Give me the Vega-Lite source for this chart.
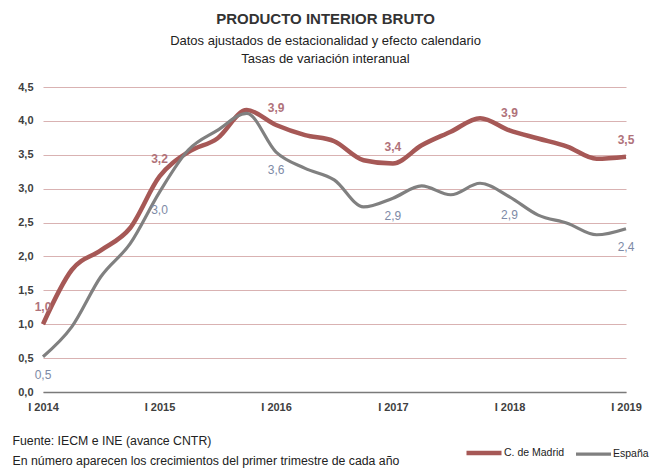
{
  "$schema": "https://vega.github.io/schema/vega-lite/v6.json",
  "width": 583,
  "height": 305,
  "autosize": {"type": "none"},
  "padding": {"left": 43, "top": 87, "right": 25, "bottom": 76},
  "background": "white",
  "config": {
    "view": {"stroke": null},
    "font": "Liberation Sans"
  },
  "title": {
    "text": "PRODUCTO INTERIOR BRUTO",
    "subtitle": ["Datos ajustados de estacionalidad y efecto calendario", "Tasas de variación interanual"],
    "anchor": "middle",
    "frame": "group",
    "dx": -9,
    "offset": 15,
    "font": "Liberation Sans",
    "fontSize": 15,
    "fontWeight": "bold",
    "color": "#333333",
    "subtitleFont": "Liberation Sans",
    "subtitleFontSize": 13,
    "subtitleColor": "#222222",
    "subtitleLineHeight": 18,
    "subtitlePadding": 8
  },
  "data": {
    "values": [
      {"date": "2014-01-01", "serie": "C. de Madrid", "v": 1.0, "label": "1,0"},
      {"date": "2014-04-01", "serie": "C. de Madrid", "v": 1.8},
      {"date": "2014-07-01", "serie": "C. de Madrid", "v": 2.09},
      {"date": "2014-10-01", "serie": "C. de Madrid", "v": 2.42},
      {"date": "2015-01-01", "serie": "C. de Madrid", "v": 3.18, "label": "3,2"},
      {"date": "2015-04-01", "serie": "C. de Madrid", "v": 3.54},
      {"date": "2015-07-01", "serie": "C. de Madrid", "v": 3.74},
      {"date": "2015-10-01", "serie": "C. de Madrid", "v": 4.16},
      {"date": "2016-01-01", "serie": "C. de Madrid", "v": 3.94, "label": "3,9"},
      {"date": "2016-04-01", "serie": "C. de Madrid", "v": 3.79},
      {"date": "2016-07-01", "serie": "C. de Madrid", "v": 3.7},
      {"date": "2016-10-01", "serie": "C. de Madrid", "v": 3.42},
      {"date": "2017-01-01", "serie": "C. de Madrid", "v": 3.37, "label": "3,4"},
      {"date": "2017-04-01", "serie": "C. de Madrid", "v": 3.64},
      {"date": "2017-07-01", "serie": "C. de Madrid", "v": 3.84},
      {"date": "2017-10-01", "serie": "C. de Madrid", "v": 4.04},
      {"date": "2018-01-01", "serie": "C. de Madrid", "v": 3.86, "label": "3,9"},
      {"date": "2018-04-01", "serie": "C. de Madrid", "v": 3.74},
      {"date": "2018-07-01", "serie": "C. de Madrid", "v": 3.62},
      {"date": "2018-10-01", "serie": "C. de Madrid", "v": 3.44},
      {"date": "2019-01-01", "serie": "C. de Madrid", "v": 3.47, "label": "3,5"},
      {"date": "2014-01-01", "serie": "España", "v": 0.52, "label": "0,5"},
      {"date": "2014-04-01", "serie": "España", "v": 0.96},
      {"date": "2014-07-01", "serie": "España", "v": 1.7},
      {"date": "2014-10-01", "serie": "España", "v": 2.19},
      {"date": "2015-01-01", "serie": "España", "v": 2.95, "label": "3,0"},
      {"date": "2015-04-01", "serie": "España", "v": 3.57},
      {"date": "2015-07-01", "serie": "España", "v": 3.86},
      {"date": "2015-10-01", "serie": "España", "v": 4.11},
      {"date": "2016-01-01", "serie": "España", "v": 3.54, "label": "3,6"},
      {"date": "2016-04-01", "serie": "España", "v": 3.3},
      {"date": "2016-07-01", "serie": "España", "v": 3.13},
      {"date": "2016-10-01", "serie": "España", "v": 2.73},
      {"date": "2017-01-01", "serie": "España", "v": 2.86, "label": "2,9"},
      {"date": "2017-04-01", "serie": "España", "v": 3.04},
      {"date": "2017-07-01", "serie": "España", "v": 2.91},
      {"date": "2017-10-01", "serie": "España", "v": 3.08},
      {"date": "2018-01-01", "serie": "España", "v": 2.88, "label": "2,9"},
      {"date": "2018-04-01", "serie": "España", "v": 2.61},
      {"date": "2018-07-01", "serie": "España", "v": 2.49},
      {"date": "2018-10-01", "serie": "España", "v": 2.32},
      {"date": "2019-01-01", "serie": "España", "v": 2.41, "label": "2,4"}
    ]
  },
  "encoding": {
    "x": {
      "field": "date",
      "type": "temporal",
      "scale": {"type": "utc", "nice": false},
      "axis": {
        "tickCount": {"interval": "year", "step": 1},
        "labelExpr": "'I ' + utcFormat(datum.value, '%Y')",
        "grid": false,
        "ticks": false,
        "domain": true,
        "domainColor": "#7a7a7a",
        "domainWidth": 1.5,
        "labelPadding": 9,
        "labelFont": "Liberation Sans",
        "labelFontSize": 11,
        "labelFontWeight": "bold",
        "labelColor": "#404040",
        "labelFlush": false,
        "title": ["Fuente: IECM  e INE (avance CNTR)", "En número aparecen los crecimientos del primer trimestre de cada año"],
        "titleAnchor": "start",
        "titleAlign": "left",
        "titleX": -31,
        "titleY": 52,
        "titleBaseline": "alphabetic",
        "titleFont": "Liberation Sans",
        "titleFontSize": 12.3,
        "titleFontWeight": "normal",
        "titleColor": "#222222",
        "titleLineHeight": 20
      }
    },
    "y": {
      "field": "v",
      "type": "quantitative",
      "scale": {"domain": [0, 4.5], "nice": false},
      "axis": {
        "values": [0, 0.5, 1, 1.5, 2, 2.5, 3, 3.5, 4, 4.5],
        "labelExpr": "replace(format(datum.value, '.1f'), '.', ',')",
        "domain": false,
        "ticks": false,
        "grid": true,
        "gridColor": "#d9b2b2",
        "gridWidth": 1.2,
        "labelPadding": 10,
        "labelFont": "Liberation Sans",
        "labelFontSize": 11,
        "labelFontWeight": "bold",
        "labelColor": "#404040",
        "title": null
      }
    }
  },
  "layer": [
    {
      "mark": {"type": "line", "interpolate": "monotone"},
      "encoding": {
        "color": {
          "field": "serie",
          "type": "nominal",
          "scale": {"domain": ["C. de Madrid", "España"], "range": ["#a65856", "#808080"]},
          "legend": {
            "orient": "none",
            "legendX": 421,
            "legendY": 346,
            "direction": "horizontal",
            "title": null,
            "symbolType": "stroke",
            "symbolSize": 1225,
            "symbolStrokeWidth": 4,
            "labelOffset": 0,
            "columnPadding": 4,
            "labelFont": "Liberation Sans",
            "labelFontSize": 10.5,
            "labelColor": "#222222"
          }
        },
        "strokeWidth": {
          "field": "serie",
          "type": "nominal",
          "scale": {"domain": ["C. de Madrid", "España"], "range": [4.5, 3.2]},
          "legend": null
        }
      }
    },
    {
      "transform": [{"filter": "datum.label != null && datum.serie == 'C. de Madrid'"}],
      "mark": {"type": "text", "dy": -17, "fontSize": 12, "fontWeight": "bold", "color": "#b0727a", "font": "Liberation Sans"},
      "encoding": {"text": {"field": "label"}}
    },
    {
      "transform": [{"filter": "datum.label != null && datum.serie == 'España'"}],
      "mark": {"type": "text", "dy": 18, "fontSize": 12, "color": "#7d8aa6", "font": "Liberation Sans"},
      "encoding": {"text": {"field": "label"}}
    }
  ]
}
